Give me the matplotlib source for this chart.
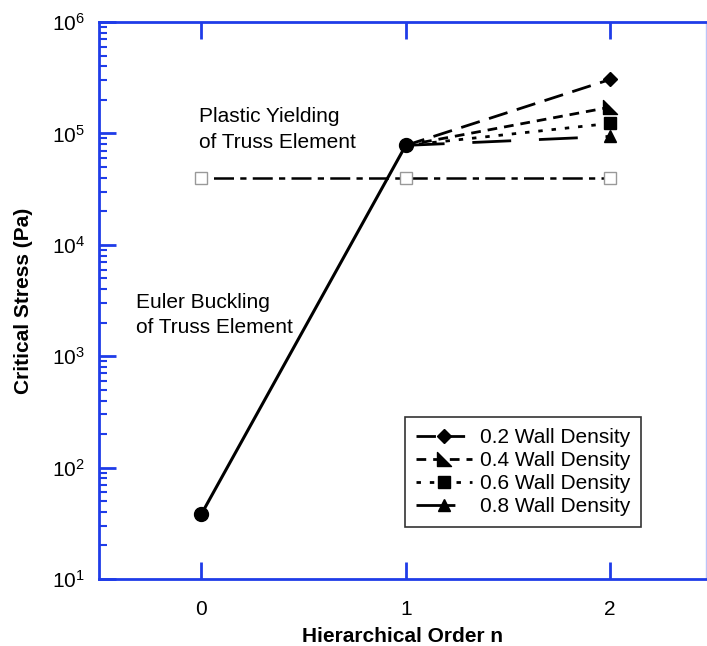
import matplotlib.pyplot as plt
from matplotlib.path import Path
import numpy as np

plt.rcParams['font.family'] = ['Liberation Sans', 'DejaVu Sans']

# Hierarchical order and critical stresses
order = [0, 1, 2]
euler_stress = [38, 7.8e4]
yield_stress = [4.0e4, 4.0e4, 4.0e4]
densities = ['0.2', '0.4', '0.6', '0.8']
stress_n2 = [3.05e5, 1.72e5, 1.23e5, 9.4e4]

blue = '#1f3ce8'

# right triangle with the right angle at bottom-left
wedge = Path([(-1, 1), (-1, -1), (1, -1), (-1, 1)],
             [Path.MOVETO, Path.LINETO, Path.LINETO, Path.CLOSEPOLY])

markers = ['D', wedge, 's', '^']
dashes = [(7, 3.5), (3.5, 2.5), (1.6, 3.2), (14, 10)]
msizes = [7, 10, 8, 8]

fig = plt.figure(figsize=(7.07, 6.46), dpi=100)
ax = fig.add_axes([99 / 707, 1 - 579 / 646, 1 - 99 / 707 - 0.001, (579 - 22) / 646])

ax.plot(order[:2], euler_stress, color='black', lw=2.2, marker='o', ms=10, zorder=5)
ax.plot(order, yield_stress, color='black', lw=1.8, dashes=(2.5, 2.5, 8, 2.5),
        marker='s', ms=8, mfc='white', mec='#999999', mew=1, zorder=3)

for d, s, m, ds, msz in zip(densities, stress_n2, markers, dashes, msizes):
    ax.plot([1, 2], [euler_stress[1], s], color='black', lw=2, dashes=ds,
            marker=m, ms=msz, markevery=[1], label=f'{d} Wall Density', zorder=4)

ax.set_yscale('log')
ax.set_xlim(-0.5, 2.47)
ax.set_ylim(10, 1e6)
ax.set_xticks(order)
ax.set_xlabel('Hierarchical Order n', fontsize=15, fontweight='bold', labelpad=6)
ax.set_ylabel('Critical Stress (Pa)', fontsize=15, fontweight='bold', labelpad=14)

for sp in ax.spines.values():
    sp.set_color(blue)
    sp.set_linewidth(2)
ax.spines['right'].set_linewidth(1)
ax.spines['right'].set_alpha(0.3)

ax.tick_params(which='both', direction='in', color=blue, labelsize=15,
               top=True, right=False)
ax.tick_params(axis='x', pad=15)
ax.tick_params(axis='y', pad=10)
ax.tick_params(which='major', length=12, width=2)
ax.tick_params(which='minor', length=6, width=1.5)
ax.tick_params(axis='x', which='minor', bottom=False, top=False)

ax.text(-0.01, 1.08e5, 'Plastic Yielding\nof Truss Element', fontsize=15,
        ha='left', va='center', linespacing=1.45)
ax.text(-0.32, 2.35e3, 'Euler Buckling\nof Truss Element', fontsize=15,
        ha='left', va='center', linespacing=1.4)

leg = ax.legend(loc='lower right', bbox_to_anchor=(0.91, 0.075), fontsize=15,
                frameon=True, fancybox=False, handlelength=2.7, handletextpad=0.4,
                labelspacing=0.2, borderpad=0.5, markerfirst=True)
leg.get_frame().set_edgecolor('black')
leg.get_frame().set_linewidth(1.2)

fig.savefig('out.png', dpi=100)
